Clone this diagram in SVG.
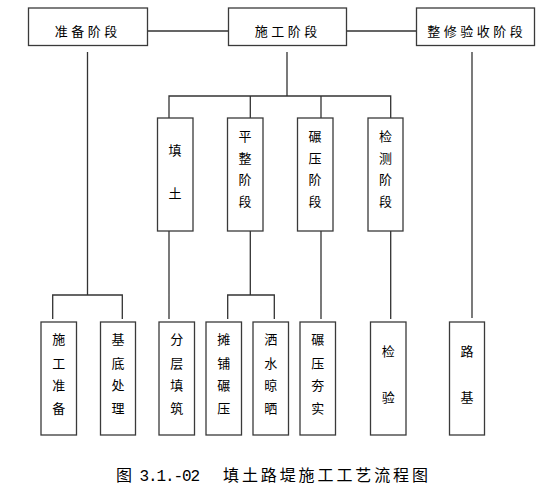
<svg xmlns="http://www.w3.org/2000/svg" width="554" height="498" viewBox="0 0 554 498">
<style>
.box{fill:#fff;stroke:#3a3a3a;stroke-width:1.3}
.ln{fill:none;stroke:#333;stroke-width:1.3}
.t{font-family:"Noto Sans CJK SC","Noto Sans CJK TC",sans-serif;font-size:13px;fill:#000;text-anchor:middle;dominant-baseline:central}
.h{letter-spacing:3.5px}
.cap{font-family:"Liberation Mono","Noto Sans CJK SC",monospace;font-size:16px;fill:#000;dominant-baseline:central}
</style>
<rect width="554" height="498" fill="#fff"/>
<g id="connectors">
<path class="ln" d="M147,31 H228 M346,31 H416"/>
<path class="ln" d="M87.5,52 V295 M52.7,319 V295 H122.3 V319"/>
<path class="ln" d="M287,52 V96 M169,118 V96 H390.7 V118 M250.3,96 V118 M321,96 V118"/>
<path class="ln" d="M169,231 V319 M250.3,231 V295 M227.7,319 V295 H274.3 V319 M321,231 V319 M390.7,231 V319"/>
<path class="ln" d="M472,52 V318"/>
</g>
<g id="n-zhunbei">
<rect class="box" x="28.5" y="8" width="119" height="37.5"/>
<text class="t h" x="87.8" y="30">准备阶段</text>
</g>
<g id="n-shigong">
<rect class="box" x="228.5" y="8" width="118" height="37.5"/>
<text class="t h" x="287.8" y="30">施工阶段</text>
</g>
<g id="n-zhengxiu">
<rect class="box" x="416.5" y="8" width="118" height="37.5"/>
<text class="t h" x="476.8" y="30">整修验收阶段</text>
</g>
<g id="n-tiantu">
<rect class="box" x="157.5" y="118" width="35.5" height="113"/>
<text class="t"><tspan x="175" y="148.5">填</tspan><tspan x="175" y="191.5">土</tspan></text>
</g>
<g id="n-pingzheng">
<rect class="box" x="227.5" y="118" width="35.5" height="113"/>
<text class="t"><tspan x="245" y="135">平</tspan><tspan x="245" y="156.7">整</tspan><tspan x="245" y="178.3">阶</tspan><tspan x="245" y="200">段</tspan></text>
</g>
<g id="n-nianya">
<rect class="box" x="297.5" y="118" width="35.5" height="113"/>
<text class="t"><tspan x="315" y="135">碾</tspan><tspan x="315" y="156.7">压</tspan><tspan x="315" y="178.3">阶</tspan><tspan x="315" y="200">段</tspan></text>
</g>
<g id="n-jiance">
<rect class="box" x="368" y="118" width="35" height="113"/>
<text class="t"><tspan x="385.5" y="135">检</tspan><tspan x="385.5" y="156.7">测</tspan><tspan x="385.5" y="178.3">阶</tspan><tspan x="385.5" y="200">段</tspan></text>
</g>
<g id="n-sgzb">
<rect class="box" x="41" y="322" width="35.5" height="113"/>
<text class="t"><tspan x="58.7" y="338.3">施</tspan><tspan x="58.7" y="361.5">工</tspan><tspan x="58.7" y="384.3">准</tspan><tspan x="58.7" y="406.7">备</tspan></text>
</g>
<g id="n-jdcl">
<rect class="box" x="100.5" y="322" width="35" height="113"/>
<text class="t"><tspan x="118" y="338.3">基</tspan><tspan x="118" y="361.5">底</tspan><tspan x="118" y="384.3">处</tspan><tspan x="118" y="406.7">理</tspan></text>
</g>
<g id="n-fctz">
<rect class="box" x="159" y="322" width="35.5" height="113"/>
<text class="t"><tspan x="176.7" y="338.3">分</tspan><tspan x="176.7" y="361.5">层</tspan><tspan x="176.7" y="384.3">填</tspan><tspan x="176.7" y="406.7">筑</tspan></text>
</g>
<g id="n-tpny">
<rect class="box" x="206" y="322" width="35.5" height="113"/>
<text class="t"><tspan x="223.7" y="338.3">摊</tspan><tspan x="223.7" y="361.5">铺</tspan><tspan x="223.7" y="384.3">碾</tspan><tspan x="223.7" y="406.7">压</tspan></text>
</g>
<g id="n-ssls">
<rect class="box" x="253" y="322" width="35.5" height="113"/>
<text class="t"><tspan x="270.7" y="338.3">洒</tspan><tspan x="270.7" y="361.5">水</tspan><tspan x="270.7" y="384.3">晾</tspan><tspan x="270.7" y="406.7">晒</tspan></text>
</g>
<g id="n-nyhs">
<rect class="box" x="300" y="322" width="35.5" height="113"/>
<text class="t"><tspan x="317.7" y="338.3">碾</tspan><tspan x="317.7" y="361.5">压</tspan><tspan x="317.7" y="384.3">夯</tspan><tspan x="317.7" y="406.7">实</tspan></text>
</g>
<g id="n-jianyan">
<rect class="box" x="370.5" y="322" width="35.5" height="113"/>
<text class="t"><tspan x="388.2" y="350">检</tspan><tspan x="388.2" y="395.7">验</tspan></text>
</g>
<g id="n-luji">
<rect class="box" x="449.5" y="322" width="35" height="113"/>
<text class="t"><tspan x="467" y="349.5">路</tspan><tspan x="467" y="395.7">基</tspan></text>
</g>
<g id="caption">
<text class="cap" x="116" y="477" textLength="84" lengthAdjust="spacing">图 3.1.-02</text>
<text class="cap" x="223" y="477" textLength="205" lengthAdjust="spacing">填土路堤施工工艺流程图</text>
</g>
</svg>
